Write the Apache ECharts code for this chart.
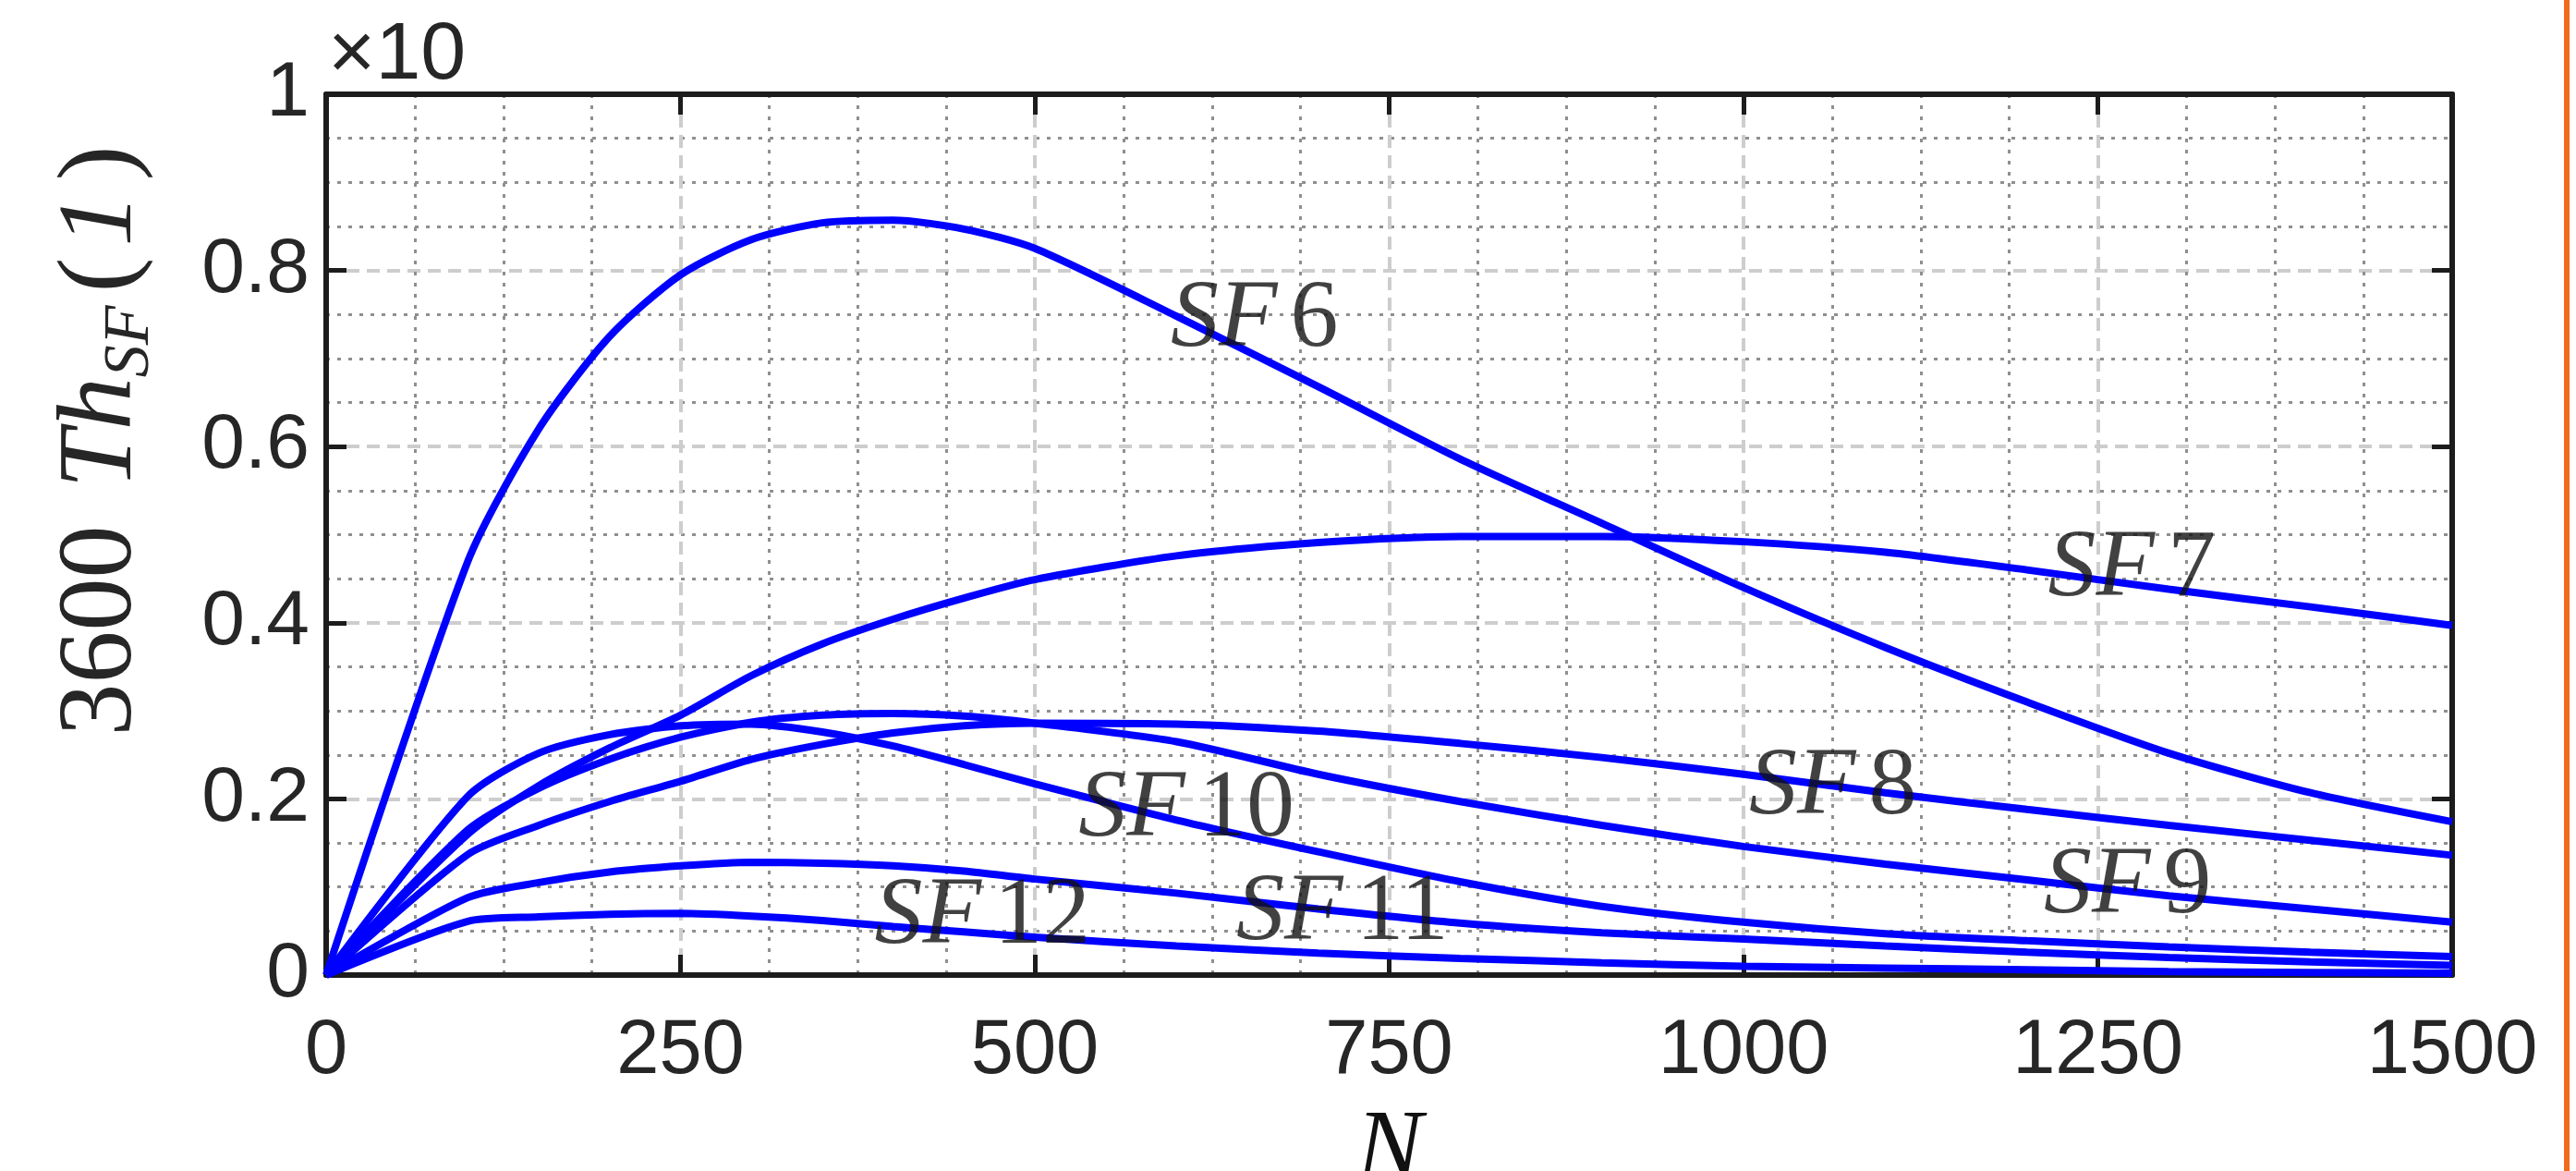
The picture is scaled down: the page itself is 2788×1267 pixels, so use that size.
<!DOCTYPE html>
<html>
<head>
<meta charset="utf-8">
<script src="https://cdn.jsdelivr.net/npm/echarts@6/dist/echarts.min.js"></script>
<style>
html,body{margin:0;padding:0;background:#fff;}
#c{width:2788px;height:1267px;}
</style>
</head>
<body>
<div id="c"></div>
<script>
// ---- data ----
const N = [0,100,150,200,250,300,350,400,450,500,600,700,800,900,1000,1100,1200,1300,1400,1500];
const sf6  = [0,0.470,0.620,0.725,0.795,0.835,0.854,0.857,0.847,0.825,0.748,0.668,0.586,0.513,0.440,0.372,0.310,0.252,0.207,0.174];
const sf7  = [0,0.160,0.215,0.258,0.295,0.340,0.376,0.404,0.428,0.449,0.476,0.491,0.498,0.498,0.492,0.480,0.460,0.438,0.418,0.397];
const sf8  = [0,0.137,0.170,0.197,0.220,0.245,0.262,0.275,0.283,0.286,0.285,0.277,0.263,0.247,0.228,0.207,0.188,0.170,0.153,0.136];
const sf9  = [0,0.165,0.212,0.245,0.270,0.287,0.295,0.297,0.294,0.286,0.265,0.228,0.197,0.170,0.146,0.126,0.108,0.090,0.075,0.060];
const sf10 = [0,0.203,0.252,0.273,0.283,0.285,0.276,0.260,0.239,0.217,0.176,0.140,0.106,0.078,0.060,0.047,0.039,0.032,0.026,0.021];
const sf11 = [0,0.088,0.105,0.117,0.124,0.128,0.127,0.124,0.118,0.109,0.093,0.075,0.059,0.048,0.041,0.033,0.026,0.020,0.015,0.011];
const sf12 = [0,0.061,0.066,0.069,0.070,0.067,0.062,0.055,0.049,0.043,0.033,0.025,0.019,0.014,0.010,0.008,0.006,0.004,0.003,0.002];
const seriesNames = ['SF6','SF7','SF8','SF9','SF10','SF11','SF12'];
const seriesValues = [sf6, sf7, sf8, sf9, sf10, sf11, sf12];

// curve annotations (data coordinates)
const labelNum = ['6','7','8','9','10','11','12'];
const labelN   = [655, 1274, 1063, 1271, 607, 717, 463];
const labelY   = [0.743, 0.46, 0.212, 0.10, 0.187, 0.070, 0.065];

const xTicks = {min:0, max:1500, interval:250};
const yTicks = {min:0, max:1, interval:0.2};
const yScaleNote = '×10';
const xName = 'N';

// ---- chart ----
const axisColor = '#1c1c1c';
const textColor = '#262626';
const sans = 'Liberation Sans';
const serif = 'Liberation Serif';

const majorSplit = {show:true, lineStyle:{color:'#cdcdcd', width:4, type:[14,8]}};
const minorSplit = {show:true, lineStyle:{color:'#8f8f8f', width:3, type:[4,8]}};

const chart = echarts.init(document.getElementById('c'), null, {renderer:'canvas'});

const lineSeries = seriesNames.map((nm, k) => ({
  name: nm,
  type: 'line',
  data: N.map((n, i) => [n, seriesValues[k][i]]),
  symbol: 'none',
  smooth: 0.25,
  lineStyle: {color:'#0000ff', width:8},
  z: 3,
  silent: true
}));

const labelSeries = {
  type: 'scatter',
  data: labelN.map((n, i) => [n, labelY[i], labelNum[i]]),
  symbolSize: 1,
  itemStyle: {color:'rgba(0,0,0,0)'},
  z: 5,
  silent: true,
  label: {
    show: true,
    position: 'inside',
    formatter: p => '{i|SF}{n|' + p.value[2] + '}',
    rich: {
      i: {fontFamily: serif, fontStyle:'italic', fontSize: 104, color:'#111'},
      n: {fontFamily: serif, fontSize: 104, color:'#111', padding:[0,0,0,14]}
    }
  }
};

const option = {
  animation: false,
  backgroundColor: '#ffffff',
  title: {
    text: yScaleNote,
    left: 350, top: 12,
    textStyle: {fontFamily: sans, fontSize: 88, fontWeight:'normal', color: textColor}
  },
  grid: {left: 353, right: 134, top: 102, bottom: 212, containLabel: false, outerBoundsMode: 'none'},
  xAxis: [
    {
      type: 'value', position: 'bottom',
      min: xTicks.min, max: xTicks.max, interval: xTicks.interval,
      name: xName, nameLocation: 'middle', nameGap: 138,
      nameTextStyle: {fontFamily: serif, fontStyle:'italic', fontSize: 108, color:'#111'},
      axisLine: {show:true, onZero:false, lineStyle:{color:axisColor, width:6}},
      axisTick: {show:true, inside:true, length:22, lineStyle:{color:axisColor, width:5}},
      axisLabel: {show:true, margin: 42, fontFamily: sans, fontSize: 83, color: textColor,
                  formatter: v => String(v)},
      splitLine: majorSplit,
      minorTick: {show:false, splitNumber:4},
      minorSplitLine: minorSplit
    },
    {
      type: 'value', position: 'top',
      min: xTicks.min, max: xTicks.max, interval: xTicks.interval,
      axisLine: {show:true, onZero:false, lineStyle:{color:axisColor, width:6}},
      axisTick: {show:true, inside:true, length:22, lineStyle:{color:axisColor, width:5}},
      axisLabel: {show:false},
      splitLine: {show:false}
    }
  ],
  yAxis: [
    {
      type: 'value', position: 'left',
      min: yTicks.min, max: yTicks.max, interval: yTicks.interval,
      name: '{a|3600}{b|Th}{c|SF}{p|(}{d|1}{q|)}',
      nameLocation: 'middle', nameRotate: 90, nameGap: 176,
      nameTextStyle: {
        padding: [0,0,0,203],
        rich: {
          a: {fontFamily: serif, fontSize: 114, color: textColor, padding:[0,40,0,0]},
          b: {fontFamily: serif, fontStyle:'italic', fontSize: 114, color: textColor},
          c: {fontFamily: serif, fontStyle:'italic', fontSize: 70, color: textColor, padding:[62,0,0,0]},
          p: {fontFamily: serif, fontSize: 114, color: textColor, padding:[0,12,0,14]},
          d: {fontFamily: serif, fontStyle:'italic', fontSize: 114, color: textColor},
          q: {fontFamily: serif, fontSize: 114, color: textColor, padding:[0,0,0,14]}
        }
      },
      axisLine: {show:true, onZero:false, lineStyle:{color:axisColor, width:6}},
      axisTick: {show:true, inside:true, length:22, lineStyle:{color:axisColor, width:5}},
      axisLabel: {show:true, margin: 18, fontFamily: sans, fontSize: 84, color: textColor},
      splitLine: majorSplit,
      minorTick: {show:false, splitNumber:4},
      minorSplitLine: minorSplit
    },
    {
      type: 'value', position: 'right',
      min: yTicks.min, max: yTicks.max, interval: yTicks.interval,
      axisLine: {show:true, onZero:false, lineStyle:{color:axisColor, width:6}},
      axisTick: {show:true, inside:true, length:22, lineStyle:{color:axisColor, width:5}},
      axisLabel: {show:false},
      splitLine: {show:false}
    }
  ],
  graphic: [
    {type:'rect', right: 7, top: 0, shape:{width:6, height:1267}, style:{fill:'#f26a1b'}, silent:true}
  ],
  series: lineSeries.concat([labelSeries])
};

chart.setOption(option);
</script>
</body>
</html>
